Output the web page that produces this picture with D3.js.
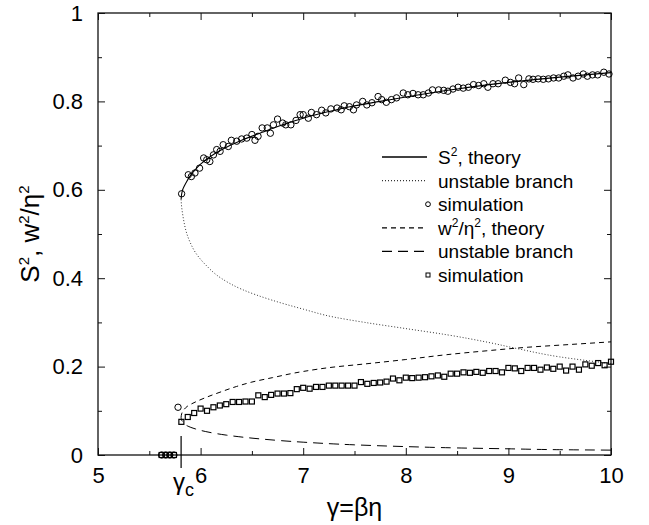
<!DOCTYPE html>
<html>
<head>
<meta charset="utf-8">
<script src="https://cdn.jsdelivr.net/npm/d3@7"></script>
<style>
  body { margin: 0; background: #fff; }
  svg { display: block; font-family: "Liberation Sans", Arial, sans-serif; }
</style>
</head>
<body>
<div id="chart"></div>
<script>
// theory curves
const s2StableG = [5.81, 5.815, 5.825, 5.84, 5.865, 5.9, 5.95, 6.0, 6.1, 6.2, 6.4, 6.6, 6.8, 7.0, 7.25, 7.5, 7.75, 8.0, 8.5, 9.0, 9.5, 10.0];
const s2StableV = [0.578, 0.59, 0.60, 0.608, 0.619, 0.632, 0.646, 0.658, 0.676, 0.69, 0.712, 0.73, 0.747, 0.762, 0.777, 0.79, 0.80, 0.81, 0.828, 0.843, 0.855, 0.865];

const s2UnstableG = [5.81, 5.815, 5.825, 5.84, 5.86, 5.9, 5.95, 6.05, 6.2, 6.4, 6.7, 7.0, 7.3, 7.6, 8.0, 8.4, 8.8, 9.1, 9.5, 10.0];
const s2UnstableV = [0.578, 0.562, 0.545, 0.525, 0.505, 0.48, 0.458, 0.43, 0.40, 0.375, 0.35, 0.33, 0.312, 0.30, 0.286, 0.272, 0.255, 0.24, 0.222, 0.207];

const w2StableG = [5.81, 5.815, 5.83, 5.87, 5.95, 6.05, 6.2, 6.35, 6.5, 6.7, 7.0, 7.3, 7.6, 8.0, 8.4, 8.8, 9.2, 9.6, 10.0];
const w2StableV = [0.085, 0.093, 0.10, 0.11, 0.12, 0.13, 0.143, 0.155, 0.165, 0.175, 0.189, 0.199, 0.206, 0.216, 0.227, 0.236, 0.244, 0.25, 0.256];

const w2UnstableG = [5.81, 5.815, 5.83, 5.87, 5.95, 6.05, 6.25, 6.6, 7.0, 7.5, 8.0, 8.5, 9.0, 9.5, 10.0];
const w2UnstableV = [0.085, 0.079, 0.074, 0.066, 0.059, 0.053, 0.045, 0.036, 0.029, 0.023, 0.019, 0.016, 0.014, 0.012, 0.011];

// simulation below threshold: both quantities at zero
const simZeroG = [5.62, 5.66, 5.70, 5.74];
const simZeroV = [0, 0, 0, 0];

// simulation, S^2 (circles)
const simS2G = [5.78,
  5.815, 5.88, 5.91, 5.945, 5.99, 6.03, 6.06, 6.09, 6.125, 6.157, 6.19, 6.22, 6.27, 6.3, 6.352, 6.40, 6.45, 6.5, 6.53, 6.56,
  6.60, 6.65, 6.68, 6.71, 6.75, 6.80, 6.83, 6.88, 6.93, 6.97, 7.0, 7.05, 7.08, 7.13, 7.18, 7.22, 7.27, 7.33, 7.37, 7.40,
  7.45, 7.49, 7.52, 7.58, 7.62, 7.67, 7.73, 7.765, 7.81, 7.86, 7.91, 7.975, 8.02, 8.07, 8.12, 8.17, 8.22, 8.26, 8.32, 8.37,
  8.41, 8.46, 8.51, 8.56, 8.61, 8.66, 8.71, 8.76, 8.80, 8.85, 8.90, 8.97, 9.02, 9.06, 9.10, 9.15, 9.2, 9.24, 9.29, 9.34,
  9.39, 9.44, 9.49, 9.54, 9.58, 9.63, 9.68, 9.73, 9.77, 9.82, 9.87, 9.93, 9.98];
const simS2V = [0.108,
  0.591, 0.634, 0.630, 0.638, 0.649, 0.672, 0.668, 0.664, 0.679, 0.691, 0.687, 0.702, 0.698, 0.712, 0.710, 0.715, 0.717, 0.725, 0.712, 0.721,
  0.740, 0.740, 0.728, 0.747, 0.760, 0.751, 0.747, 0.747, 0.757, 0.770, 0.770, 0.762, 0.775, 0.770, 0.780, 0.774, 0.783, 0.785, 0.781, 0.790,
  0.788, 0.781, 0.792, 0.800, 0.792, 0.797, 0.811, 0.804, 0.798, 0.804, 0.808, 0.819, 0.815, 0.818, 0.815, 0.815, 0.819, 0.826, 0.826, 0.825,
  0.823, 0.828, 0.832, 0.830, 0.832, 0.838, 0.836, 0.840, 0.832, 0.840, 0.840, 0.848, 0.843, 0.840, 0.853, 0.838, 0.851, 0.850, 0.851, 0.850,
  0.851, 0.853, 0.853, 0.857, 0.860, 0.853, 0.857, 0.862, 0.857, 0.860, 0.860, 0.866, 0.862];

// simulation, w^2/eta^2 (squares), gamma grid of 1/16 from 5.8125
const simW2Start = 5.8125;
const simW2Step = 0.0625;
const simW2V = [
  0.075, 0.086, 0.095, 0.105, 0.100, 0.108, 0.112, 0.115, 0.120, 0.120, 0.121, 0.121, 0.135, 0.131, 0.136, 0.139,
  0.139, 0.140, 0.149, 0.152, 0.150, 0.154, 0.154, 0.157, 0.157, 0.157, 0.157, 0.157, 0.165, 0.161, 0.163, 0.164,
  0.166, 0.173, 0.169, 0.175, 0.174, 0.175, 0.176, 0.178, 0.180, 0.177, 0.184, 0.184, 0.187, 0.186, 0.188, 0.186,
  0.190, 0.190, 0.187, 0.197, 0.196, 0.190, 0.197, 0.197, 0.193, 0.198, 0.195, 0.200, 0.191, 0.200, 0.193, 0.205,
  0.202, 0.208, 0.203, 0.211];

const gammaC = 5.81;

const xTicks = [5, 6, 7, 8, 9, 10];
const xMinorTicks = [5.5, 6.5, 7.5, 8.5, 9.5];
const yTicks = [0, 0.2, 0.4, 0.6, 0.8, 1];
const yTickLabels = ["0", "0.2", "0.4", "0.6", "0.8", "1"];
const yMinorTicks = [0.1, 0.3, 0.5, 0.7, 0.9];

const W = 649, H = 525;
const margin = { top: 13, right: 38, bottom: 70, left: 98 };
const width = W - margin.left - margin.right;
const height = H - margin.top - margin.bottom;

const svg = d3.select("#chart").append("svg")
  .attr("width", W)
  .attr("height", H);

const g = svg.append("g").attr("transform", `translate(${margin.left},${margin.top})`);

const x = d3.scaleLinear().domain([5, 10]).range([0, width]);
const y = d3.scaleLinear().domain([0, 1]).range([height, 0]);

// axes with inward ticks on all four sides
const addAxis = (gen, tr) => {
  const a = g.append("g").attr("transform", tr).call(gen);
  a.select(".domain").remove();
  a.selectAll("line").attr("stroke", "#111").attr("stroke-width", 1);
  a.selectAll("text").attr("fill", "#000").style("font-size", "22px").style("font-family", "Liberation Sans, Arial, sans-serif");
  return a;
};

addAxis(d3.axisBottom(x).tickValues(xTicks).tickSize(-7).tickPadding(12).tickFormat(d3.format("d")), `translate(0,${height})`);
addAxis(d3.axisBottom(x).tickValues(xMinorTicks).tickSize(-4).tickFormat(""), `translate(0,${height})`);
addAxis(d3.axisTop(x).tickValues(xTicks).tickSize(-7).tickFormat(""), "translate(0,0)");
addAxis(d3.axisTop(x).tickValues(xMinorTicks).tickSize(-4).tickFormat(""), "translate(0,0)");
addAxis(d3.axisLeft(y).tickValues(yTicks).tickSize(-7).tickPadding(15).tickFormat((d, i) => yTickLabels[i]), "translate(0,0)");
addAxis(d3.axisLeft(y).tickValues(yMinorTicks).tickSize(-4).tickFormat(""), "translate(0,0)");
addAxis(d3.axisRight(y).tickValues(yTicks).tickSize(-7).tickFormat(""), `translate(${width},0)`);
addAxis(d3.axisRight(y).tickValues(yMinorTicks).tickSize(-4).tickFormat(""), `translate(${width},0)`);

g.append("rect")
  .attr("width", width).attr("height", height)
  .attr("fill", "none").attr("stroke", "#111").attr("stroke-width", 1.3);

// theory curves
const zip = (gs, vs) => gs.map((d, i) => [d, vs[i]]);
const line = d3.line().x(d => x(d[0])).y(d => y(d[1])).curve(d3.curveMonotoneY);

const curves = [
  { pts: zip(s2StableG, s2StableV), dash: null, color: "#000", w: 1.1 },
  { pts: zip(s2UnstableG, s2UnstableV).reverse(), dash: "1,2", color: "#333", w: 1 },
  { pts: zip(w2StableG, w2StableV), dash: "5,4", color: "#000", w: 1 },
  { pts: zip(w2UnstableG, w2UnstableV).reverse(), dash: "10,6", color: "#000", w: 1 }
];

curves.forEach(c => {
  g.append("path")
    .attr("d", line(c.pts))
    .attr("fill", "none")
    .attr("stroke", c.color)
    .attr("stroke-width", c.w)
    .attr("stroke-dasharray", c.dash);
});

// simulation points
const squares = simW2V.map((d, i) => [simW2Start + i * simW2Step, d]).concat(zip(simZeroG, simZeroV));
const circles = zip(simS2G, simS2V).concat(zip(simZeroG, simZeroV));

g.append("g").selectAll("rect")
  .data(squares)
  .join("rect")
  .attr("x", d => x(d[0]) - 2.5)
  .attr("y", d => y(d[1]) - 2.5)
  .attr("width", 5).attr("height", 5)
  .attr("fill", "none").attr("stroke", "#000").attr("stroke-width", 1.2);

g.append("g").selectAll("circle")
  .data(circles)
  .join("circle")
  .attr("cx", d => x(d[0]))
  .attr("cy", d => y(d[1]))
  .attr("r", 3.2)
  .attr("fill", "none").attr("stroke", "#000").attr("stroke-width", 1);

// gamma_c marker
g.append("line")
  .attr("x1", x(gammaC)).attr("x2", x(gammaC))
  .attr("y1", y(0.043)).attr("y2", height + 13)
  .attr("stroke", "#000").attr("stroke-width", 1.2);

const gcLabel = g.append("text")
  .attr("x", x(gammaC) - 8).attr("y", height + 35)
  .style("font-size", "24px");
gcLabel.append("tspan").text("γ");
gcLabel.append("tspan").attr("dy", 6).style("font-size", "18px").text("c");

// axis titles
g.append("text")
  .attr("x", width / 2).attr("y", height + 61)
  .attr("text-anchor", "middle")
  .style("font-size", "25px")
  .text("γ=βη");

const yTitle = g.append("text")
  .attr("transform", `translate(${-59},${height / 2}) rotate(-90)`)
  .attr("text-anchor", "middle")
  .style("font-size", "26px");
yTitle.append("tspan").text("S");
yTitle.append("tspan").attr("dy", -10).style("font-size", "15px").text("2");
yTitle.append("tspan").attr("dy", 10).text(", w");
yTitle.append("tspan").attr("dy", -10).style("font-size", "15px").text("2");
yTitle.append("tspan").attr("dy", 10).text("/η");
yTitle.append("tspan").attr("dy", -10).style("font-size", "15px").text("2");

// legend
const legendRows = [
  { label: [["S", 0], ["2", 1], [", theory", 0]], type: "line", dash: null, color: "#000" },
  { label: [["unstable branch", 0]], type: "line", dash: "1,2", color: "#333" },
  { label: [["simulation", 0]], type: "circle" },
  { label: [["w", 0], ["2", 1], ["/η", 0], ["2", 1], [", theory", 0]], type: "line", dash: "5,4", color: "#000" },
  { label: [["unstable branch", 0]], type: "line", dash: "10,6", color: "#000" },
  { label: [["simulation", 0]], type: "square" }
];

const legend = svg.append("g").attr("transform", "translate(382,157)");
const rowH = 23.6;

legendRows.forEach((r, i) => {
  const row = legend.append("g").attr("transform", `translate(0,${i * rowH})`);
  if (r.type === "line") {
    row.append("line").attr("x1", 0).attr("x2", 45)
      .attr("stroke", r.color).attr("stroke-width", r.dash ? 1.2 : 1.4)
      .attr("stroke-dasharray", r.dash);
  } else if (r.type === "circle") {
    row.append("circle").attr("cx", 46).attr("r", 2.4)
      .attr("fill", "none").attr("stroke", "#000").attr("stroke-width", 1);
  } else {
    row.append("rect").attr("x", 44).attr("y", -2).attr("width", 4).attr("height", 4)
      .attr("fill", "none").attr("stroke", "#000").attr("stroke-width", 1);
  }
  const t = row.append("text").attr("x", 56).attr("y", 7).style("font-size", "19px");
  let prevSup = 0;
  r.label.forEach(([s, sup]) => {
    const ts = t.append("tspan").text(s);
    if (sup !== prevSup) ts.attr("dy", sup ? -8 : 8);
    if (sup) ts.style("font-size", "12px");
    prevSup = sup;
  });
});
</script>
</body>
</html>
